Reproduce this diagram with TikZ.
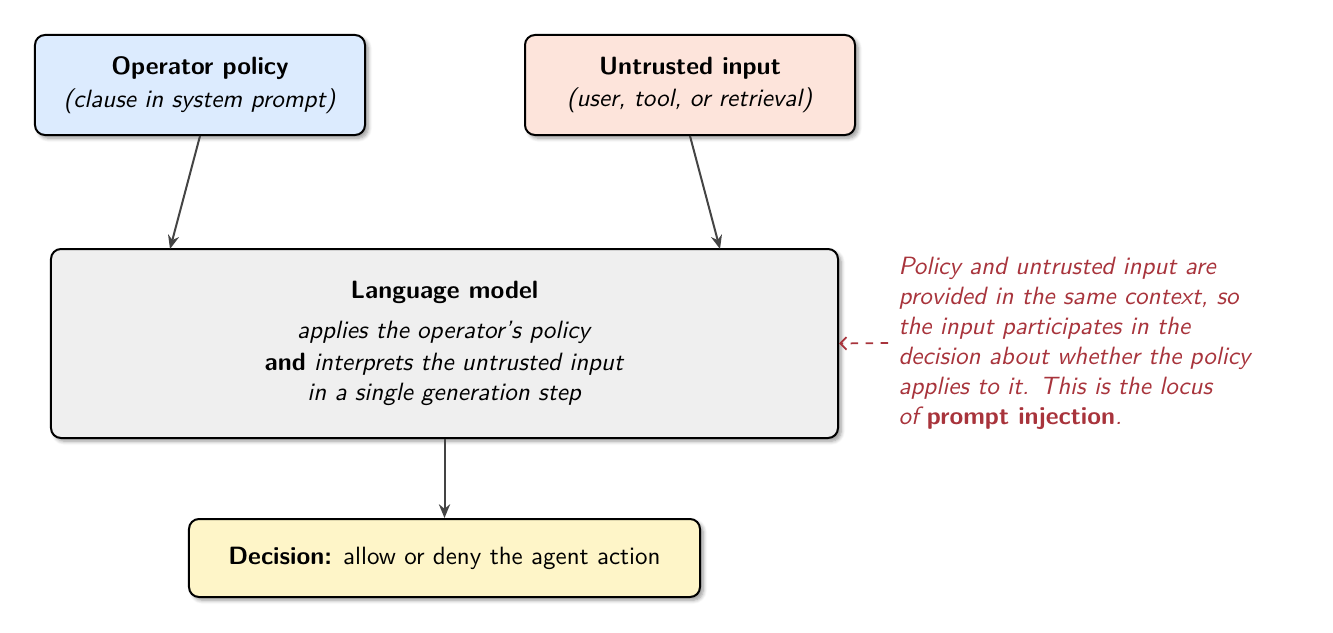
\documentclass[tikz,border=0pt]{standalone}
\usepackage{fontspec}
\usetikzlibrary{arrows.meta,shadows.blur}
\definecolor{opfill}{HTML}{DCEBFE}
\definecolor{unfill}{HTML}{FDE4DB}
\definecolor{lmfill}{HTML}{EFEFEF}
\definecolor{decfill}{HTML}{FEF5C8}
\definecolor{notered}{HTML}{A8343C}
\definecolor{arrgray}{HTML}{444444}
\tikzset{
  box/.style={draw=black, line width=0.8pt, rounded corners=4pt, align=center,
    font=\sffamily, blur shadow={shadow xshift=1.3pt, shadow yshift=-1.3pt, shadow blur radius=1.5pt, shadow blur steps=6, shadow opacity=40}},
  flow/.style={draw=arrgray, line width=0.8pt, -{Stealth[length=5.5pt,width=4.5pt]}},
  notearrow/.style={draw=notered, line width=0.7pt, dash pattern=on 3pt off 3pt, -{Straight Barb[length=2.5pt,width=5pt]}}
}
\begin{document}
\begin{tikzpicture}[x=0.4pt,y=-0.4pt]
\useasboundingbox (0,0) rectangle (1333,633);
\node[box, fill=opfill, minimum width=132pt, minimum height=40pt] (op) at (200,85)
  {\textbf{Operator policy}\\[1pt]\textit{(clause in system prompt)}};
\node[box, fill=unfill, minimum width=132pt, minimum height=40pt] (un) at (690,85)
  {\textbf{Untrusted input}\\[1pt]\textit{(user, tool, or retrieval)}};
\node[box, fill=lmfill, minimum width=314.8pt, minimum height=75.6pt] (lm) at (444.5,343.5)
  {\textbf{Language model}\\[4pt]\textit{applies the operator's policy}\\[1pt]\textbf{and} \textit{interprets the untrusted input}\\\textit{in a single generation step}};
\node[box, fill=decfill, minimum width=204.4pt, minimum height=31.2pt] (dec) at (444.5,558)
  {\textbf{Decision:} allow or deny the agent action};
\node[font=\sffamily\itshape, text=notered, align=left, anchor=west, inner sep=0pt] (note) at (898,343)
  {Policy and untrusted input are\\provided in the same context, so\\the input participates in the\\decision about whether the policy\\applies to it. This is the locus\\of\ \textbf{\upshape prompt injection}.};
\coordinate (opS) at (200,135);
\coordinate (lmA) at (170,249);
\coordinate (unS) at (690,135);
\coordinate (lmB) at (720,249);
\draw[flow] (op.south -| opS) -- (lmA);
\draw[flow] (un.south -| unS) -- (lmB);
\draw[flow] (lm.south) -- (dec.north);
\coordinate (ns) at (888,343);
\draw[notearrow] (ns) -- (lm.east);
\end{tikzpicture}
\end{document}
